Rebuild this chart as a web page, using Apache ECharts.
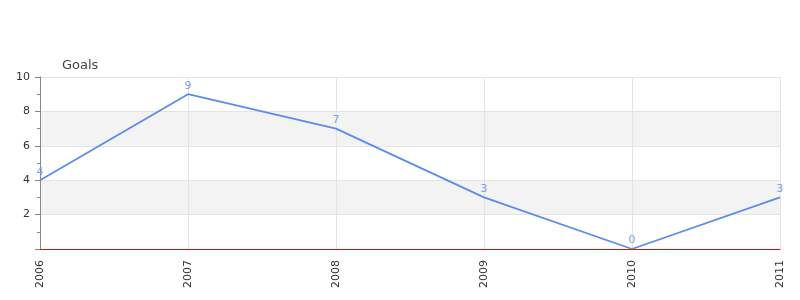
<!DOCTYPE html>
<html><head><meta charset="utf-8">
<script src="https://cdn.jsdelivr.net/npm/echarts@6/dist/echarts.min.js"></script>
<style>html,body{margin:0;padding:0;background:#fff}#c{width:800px;height:300px}</style>
</head><body><div id="c"></div>
<script>
var years = ['2006','2007','2008','2009','2010','2011'];
var goals = [4, 9, 7, 3, 0, 3];
var yName = 'Goals';

var chart = echarts.init(document.getElementById('c'), null, {renderer:'canvas'});
chart.setOption({
  animation: false,
  backgroundColor: '#fff',
  grid: {left: 40, right: 20, top: 77, bottom: 51, containLabel: false},
  xAxis: {
    type: 'category', data: years, boundaryGap: false, offset: 1,
    axisLine: {lineStyle: {color: '#555', width: 1}},
    axisTick: {show: false},
    axisLabel: {rotate: 90, color: '#333', fontSize: 11, fontFamily: 'DejaVu Sans', margin: 10},
    splitLine: {show: true, lineStyle: {color: '#e4e4e4'}}
  },
  yAxis: {
    type: 'value', min: 0, max: 10, interval: 2,
    name: yName, nameLocation: 'end', nameGap: 5,
    nameTextStyle: {color: '#444', fontSize: 13, fontFamily: 'DejaVu Sans', align: 'left', padding: [0,0,0,22]},
    axisLine: {show: true, lineStyle: {color: '#888'}},
    axisTick: {show: true, length: 5, lineStyle: {color: '#888'}},
    minorTick: {show: true, splitNumber: 2, length: 3, lineStyle: {color: '#888'}},
    axisLabel: {color: '#333', fontSize: 11, fontFamily: 'DejaVu Sans', margin: 10,
      formatter: function(v){ return v === 0 ? '' : String(v); }},
    splitLine: {show: true, lineStyle: {color: '#e4e4e4'}},
    splitArea: {show: true, areaStyle: {color: ['rgba(255,255,255,0)', '#f3f3f3']}}
  },
  series: [{
    type: 'line', data: goals,
    symbol: 'circle', symbolSize: 0,
    lineStyle: {color: '#5b8ced', width: 1.8},
    itemStyle: {color: '#5b8ced'},
    label: {show: true, position: 'top', distance: 3, color: '#7aa0ea', fontSize: 11, fontFamily: 'DejaVu Sans'},
    markLine: {silent: true, symbol: 'none', label: {show: false},
      lineStyle: {color: '#c81818', type: 'solid', width: 1},
      data: [{yAxis: 0}]}
  }]
});
</script></body></html>
